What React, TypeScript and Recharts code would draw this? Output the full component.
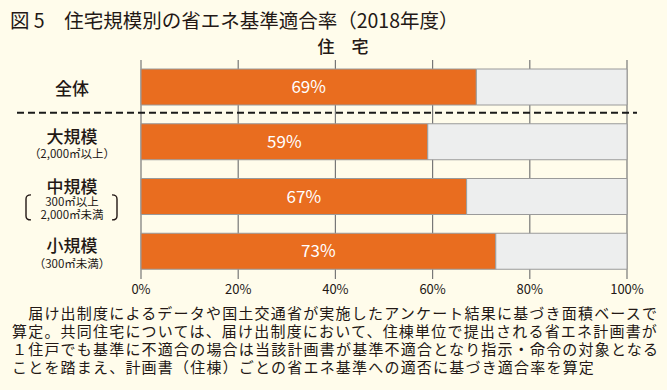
import { BarChart, Bar, XAxis, YAxis, CartesianGrid, LabelList } from 'recharts';

// 住宅規模別の省エネ基準適合率（2018年度）
const categories = ['全体', '大規模', '中規模', '小規模'];
const subLabels: string[][] = [[], ['（2,000㎡以上）'], ['300㎡以上', '2,000㎡未満'], ['（300㎡未満）']];
const compliantRates = [69, 59, 67, 73];
const xTicks = [0, 20, 40, 60, 80, 100];

const noteLines = [
  '　届け出制度によるデータや国土交通省が実施したアンケート結果に基づき面積ベースで',
  '算定。共同住宅については、届け出制度において、住棟単位で提出される省エネ計画書が',
  '１住戸でも基準に不適合の場合は当該計画書が基準不適合となり指示・命令の対象となる',
  'ことを踏まえ、計画書（住棟）ごとの省エネ基準への適否に基づき適合率を算定',
];

const data = categories.map((name, i) => ({
  name,
  rate: compliantRates[i],
  rest: 100 - compliantRates[i],
}));

const FONT = '"Noto Sans CJK JP", "Noto Sans", sans-serif';
const INK = '#231815';
const LABEL_X = 72;

const CategoryTick = (props: any) => {
  const { y, payload, index } = props;
  const i = categories.indexOf(payload.value);
  const subs = subLabels[i] || [];

  let mainY = y;
  let subYs: number[] = [];
  if (subs.length === 1) {
    mainY = y - 7;
    subYs = [y + 11];
  } else if (subs.length === 2) {
    mainY = y - 11;
    subYs = [y + 4.5, y + 17];
  }

  return (
    <g>
      {/* 全体と規模別の区切り */}
      {index === 1 && (
        <line x1={17} x2={637} y1={y - 29.5} y2={y - 29.5} stroke="#1a1a1a" strokeWidth={2} strokeDasharray="7 4" />
      )}
      <text x={LABEL_X} y={mainY} textAnchor="middle" dominantBaseline="central" fontSize={17} fontWeight={500} fill={INK} fontFamily={FONT}>
        {payload.value}
      </text>
      {subs.map((s, k) => (
        <text key={k} x={LABEL_X} y={subYs[k]} textAnchor="middle" dominantBaseline="central" fontSize={11.5} fill={INK} fontFamily={FONT}>
          {s}
        </text>
      ))}
      {subs.length === 2 && (
        <g fill="none" stroke={INK} strokeWidth={1.4}>
          <path d={`M31,${y - 2} Q26,${y - 2} 26,${y + 2} L26,${y + 19} Q26,${y + 23} 31,${y + 23}`} />
          <path d={`M112,${y - 2} Q117,${y - 2} 117,${y + 2} L117,${y + 19} Q117,${y + 23} 112,${y + 23}`} />
        </g>
      )}
    </g>
  );
};

export default function App() {
  return (
    <div style={{ position: 'relative', width: 667, height: 390, background: '#FFFCEB', fontFamily: FONT, color: INK, overflow: 'hidden' }}>
      <style>{'body{margin:0}'}</style>
      <div style={{ position: 'absolute', left: 10, top: 9, fontSize: 19.5, lineHeight: '22px', whiteSpace: 'nowrap' }}>
        図 5　住宅規模別の省エネ基準適合率（2018年度）
      </div>
      <div style={{ position: 'absolute', left: 343, top: 37, transform: 'translateX(-50%)', fontSize: 17, lineHeight: '18px', fontWeight: 500, whiteSpace: 'nowrap' }}>
        住　宅
      </div>

      <div style={{ position: 'absolute', left: 0, top: 0 }}>
        <BarChart
          width={667}
          height={300}
          data={data}
          layout="vertical"
          margin={{ top: 60, right: 40, bottom: 0, left: 0 }}
          barSize={36}
        >
          <CartesianGrid horizontal={false} stroke="#777777" strokeWidth={1.2} />
          <XAxis
            type="number"
            domain={[0, 100]}
            ticks={xTicks}
            tickFormatter={(v: number) => `${v}%`}
            axisLine={false}
            tickLine={false}
            tickSize={0}
            tickMargin={6}
            height={21}
            tick={{ fontSize: 13, fill: INK, fontFamily: FONT }}
          />
          <YAxis
            type="category"
            dataKey="name"
            width={141}
            axisLine={false}
            tickLine={false}
            interval={0}
            tick={CategoryTick}
          />
          <Bar dataKey="rate" stackId="a" fill="#E96D1F" stroke="#9a9a9a" strokeWidth={1} isAnimationActive={false}>
            <LabelList dataKey="rate" position="center" formatter={(v: any) => `${v}%`} fill="#ffffff" fontSize={17} fontFamily={FONT} />
          </Bar>
          <Bar dataKey="rest" stackId="a" fill="#EDEEEE" stroke="#9a9a9a" strokeWidth={1} isAnimationActive={false} />
        </BarChart>
      </div>

      <div style={{ position: 'absolute', left: 12, top: 304, fontSize: 15, lineHeight: '18px', letterSpacing: '1.2px' }}>
        {noteLines.map((line, i) => (
          <div key={i} style={{ whiteSpace: 'nowrap' }}>{line}</div>
        ))}
      </div>
    </div>
  );
}
